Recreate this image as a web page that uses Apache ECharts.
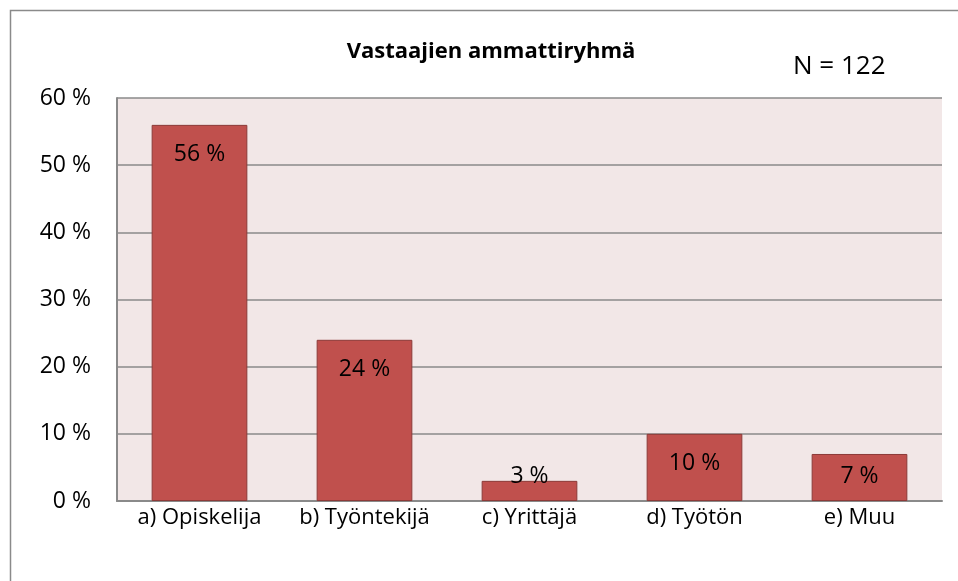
<!DOCTYPE html>
<html>
<head>
<meta charset="utf-8">
<script src="https://cdn.jsdelivr.net/npm/echarts@6/dist/echarts.min.js"></script>
<style>
  html, body { margin: 0; padding: 0; background: #fff; }
  #chart { width: 958px; height: 581px; }
</style>
</head>
<body>
<div id="chart"></div>
<script>
// ammattiryhmät ja osuudet (%)
const categories = ['a) Opiskelija', 'b) Työntekijä', 'c) Yrittäjä', 'd) Työtön', 'e) Muu'];
const shares = [56, 24, 3, 10, 7];
const yTicks = [0, 10, 20, 30, 40, 50, 60];

const font = '"Open Sans", "Noto Sans", sans-serif';

const myChart = echarts.init(document.getElementById('chart'));

const option = {
  backgroundColor: '#fff',
  animation: false,
  textStyle: { fontFamily: font },
  title: {
    text: 'Vastaajien ammattiryhmä',
    left: 486,
    top: 36,
    textAlign: 'center',
    textStyle: { fontFamily: font, fontSize: 22, fontWeight: 'bold', color: '#000' }
  },
  graphic: [
    {
      type: 'rect',
      shape: { x: 10.5, y: 10.5, width: 970, height: 600 },
      style: { fill: null, stroke: '#8a8a8a', lineWidth: 1.5 },
      silent: true
    },
    {
      type: 'text',
      left: 793,
      top: 54,
      style: { text: 'N = 122', fontFamily: font, fontSize: 26, fill: '#000' }
    }
  ],
  grid: {
    left: 117,
    right: 16,
    top: 98,
    bottom: 80,
    show: true,
    backgroundColor: '#F2E7E7',
    borderWidth: 0
  },
  xAxis: {
    type: 'category',
    data: categories,
    axisLine: { show: true, lineStyle: { color: '#8a8a8a', width: 2 } },
    axisTick: { show: false },
    axisLabel: { interval: 0, hideOverlap: false, fontFamily: font, fontSize: 22, color: '#000', margin: 6 }
  },
  yAxis: {
    type: 'value',
    min: yTicks[0],
    max: yTicks[yTicks.length - 1],
    interval: 10,
    axisLine: { show: true, lineStyle: { color: '#8a8a8a', width: 2 } },
    axisTick: { show: false },
    splitLine: { show: true, lineStyle: { color: '#8a8a8a', width: 1.5 } },
    axisLabel: {
      fontFamily: font, fontSize: 23, color: '#000', margin: 26,
      formatter: v => v + ' %'
    }
  },
  series: [
    {
      name: 'Osuus',
      type: 'bar',
      barWidth: '58%',
      data: shares.map(v => ({
        value: v,
        label: v < 8
          ? { position: 'insideBottom', distance: 13 }
          : { position: 'insideTop', distance: 18 }
      })),
      itemStyle: { color: '#C0504D', borderColor: '#8C3A38', borderWidth: 1 },
      label: {
        show: true,
        fontFamily: font,
        fontSize: 23,
        color: '#000',
        formatter: p => p.value + ' %'
      }
    }
  ]
};

myChart.setOption(option);
</script>
</body>
</html>
